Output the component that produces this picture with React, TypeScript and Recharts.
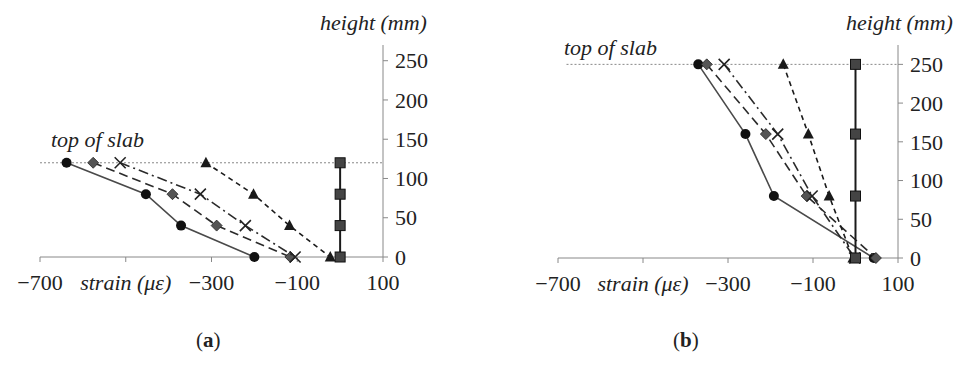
import { ScatterChart, Scatter, XAxis, YAxis, ReferenceLine } from 'recharts';

// panel (a)
const heightsA = [120, 80, 40, 0];
const circleA = [-638, -453, -371, -200];
const diamondA = [-576, -391, -288, -116];
const crossA = [-513, -326, -221, -105];
const triangleA = [-313, -202, -118, -23];
const squareA = [0, 0, 0, 0];

// panel (b)
const heightsB = [250, 160, 80, 0];
const circleB = [-370, -259, -192, 43];
const diamondB = [-350, -211, -115, 48];
const crossB = [-309, -183, -102, -2];
const triangleB = [-170, -111, -62, -6];
const squareB = [0, 0, 0, 0];

const xTicks = [-700, -500, -300, -100, 100];
const yTicks = [0, 50, 100, 150, 200, 250];

const FONT = "'Liberation Serif', 'Times New Roman', serif";

const STYLES: any = {
  circle: { stroke: '#4a4a4a', width: 1.6, dash: undefined },
  diamond: { stroke: '#2a2a2a', width: 1.6, dash: '9 5' },
  cross: { stroke: '#2a2a2a', width: 1.6, dash: '10 4 2 4' },
  triangle: { stroke: '#1a1a1a', width: 1.6, dash: '5 4' },
  square: { stroke: '#1a1a1a', width: 2, dash: undefined },
};

function Marker(props: any) {
  const { cx, cy, kind } = props;
  if (cx == null || cy == null) return null;
  if (kind === 'circle') return <circle cx={cx} cy={cy} r={5} fill="#111" />;
  if (kind === 'diamond')
    return (
      <polygon
        points={`${cx},${cy - 5.5} ${cx + 5.5},${cy} ${cx},${cy + 5.5} ${cx - 5.5},${cy}`}
        fill="#555"
        stroke="#222"
        strokeWidth={0.8}
      />
    );
  if (kind === 'triangle')
    return <polygon points={`${cx},${cy - 6} ${cx + 5.5},${cy + 4.5} ${cx - 5.5},${cy + 4.5}`} fill="#1a1a1a" />;
  if (kind === 'square')
    return <rect x={cx - 5} y={cy - 5} width={10} height={10} fill="#444" stroke="#111" strokeWidth={1} />;
  return (
    <path
      d={`M${cx - 5.5},${cy - 5.5}L${cx + 5.5},${cy + 5.5}M${cx + 5.5},${cy - 5.5}L${cx - 5.5},${cy + 5.5}`}
      stroke="#222"
      strokeWidth={1.6}
    />
  );
}

function XTick(props: any) {
  const { x, y, payload } = props;
  const v = payload.value;
  if (v === -500)
    return (
      <text x={x} y={y} dy="0.71em" textAnchor="middle" fontFamily={FONT} fontSize={22} fontStyle="italic" fill="#222">
        strain (με)
      </text>
    );
  return (
    <text x={x} y={y} dy="0.71em" textAnchor="middle" fontFamily={FONT} fontSize={22} fill="#222">
      {v < 0 ? '\u2212' + Math.abs(v) : v}
    </text>
  );
}

function YTick(props: any) {
  const { x, y, payload } = props;
  return (
    <text x={x} y={y} dy="0.35em" textAnchor="start" fontFamily={FONT} fontSize={22} fill="#222">
      {payload.value}
    </text>
  );
}

function toPoints(xs: number[], hs: number[]) {
  return xs.map((x, i) => ({ x, y: hs[i] }));
}

function Panel({ heights, series, yMax, margin, slabStart }: any) {
  const top = heights[0];
  return (
    <ScatterChart width={480} height={300} margin={margin}>
      <XAxis
        type="number"
        dataKey="x"
        domain={[-700, 100]}
        ticks={xTicks}
        height={30}
        stroke="#888"
        tickSize={5}
        tickMargin={12}
        tick={<XTick />}
      />
      <YAxis
        type="number"
        dataKey="y"
        domain={[0, yMax]}
        ticks={yTicks}
        orientation="right"
        width={60}
        stroke="#888"
        tickSize={5}
        tickMargin={7}
        tick={<YTick />}
      />
      <ReferenceLine
        segment={[
          { x: slabStart, y: top },
          { x: 100, y: top },
        ]}
        stroke="#888"
        strokeDasharray="2 2"
      />
      {series.map((s: any) => {
        const st = STYLES[s.kind];
        return (
          <Scatter
            key={s.kind}
            data={toPoints(s.values, heights)}
            fill={st.stroke}
            line={{ stroke: st.stroke, strokeWidth: st.width, strokeDasharray: st.dash }}
            lineType="joint"
            shape={(p: any) => <Marker {...p} kind={s.kind} />}
            isAnimationActive={false}
          />
        );
      })}
    </ScatterChart>
  );
}

const label = (left: number, top: number, text: string): any => (
  <div
    style={{
      position: 'absolute',
      left,
      top,
      fontFamily: FONT,
      fontSize: 22,
      lineHeight: '24px',
      fontStyle: 'italic',
      color: '#222',
      whiteSpace: 'nowrap',
    }}
  >
    {text}
  </div>
);

export default function App() {
  const seriesA = [
    { kind: 'circle', values: circleA },
    { kind: 'diamond', values: diamondA },
    { kind: 'cross', values: crossA },
    { kind: 'triangle', values: triangleA },
    { kind: 'square', values: squareA },
  ];
  const seriesB = [
    { kind: 'circle', values: circleB },
    { kind: 'diamond', values: diamondB },
    { kind: 'cross', values: crossB },
    { kind: 'triangle', values: triangleB },
    { kind: 'square', values: squareB },
  ];
  return (
    <div style={{ position: 'absolute', left: 0, top: 0, width: 960, height: 374, background: '#fff' }}>
      <div style={{ position: 'absolute', left: 0, top: 0 }}>
        <Panel
          heights={heightsA}
          series={seriesA}
          yMax={270}
          margin={{ top: 45, right: 37, bottom: 13, left: 40 }}
          slabStart={-700}
        />
      </div>
      <div style={{ position: 'absolute', left: 480, top: 0 }}>
        <Panel
          heights={heightsB}
          series={seriesB}
          yMax={275}
          margin={{ top: 45, right: 2, bottom: 12, left: 78 }}
          slabStart={-680}
        />
      </div>
      {label(320, 11, 'height (mm)')}
      {label(51, 128, 'top of slab')}
      {label(846, 11, 'height (mm)')}
      {label(564, 36, 'top of slab')}
      <div
        style={{
          position: 'absolute',
          left: 196,
          top: 328,
          fontFamily: FONT,
          fontSize: 21,
          lineHeight: '24px',
          color: '#222',
        }}
      >
        (<b>a</b>)
      </div>
      <div
        style={{
          position: 'absolute',
          left: 673,
          top: 328,
          fontFamily: FONT,
          fontSize: 21,
          lineHeight: '24px',
          color: '#222',
        }}
      >
        (<b>b</b>)
      </div>
    </div>
  );
}
